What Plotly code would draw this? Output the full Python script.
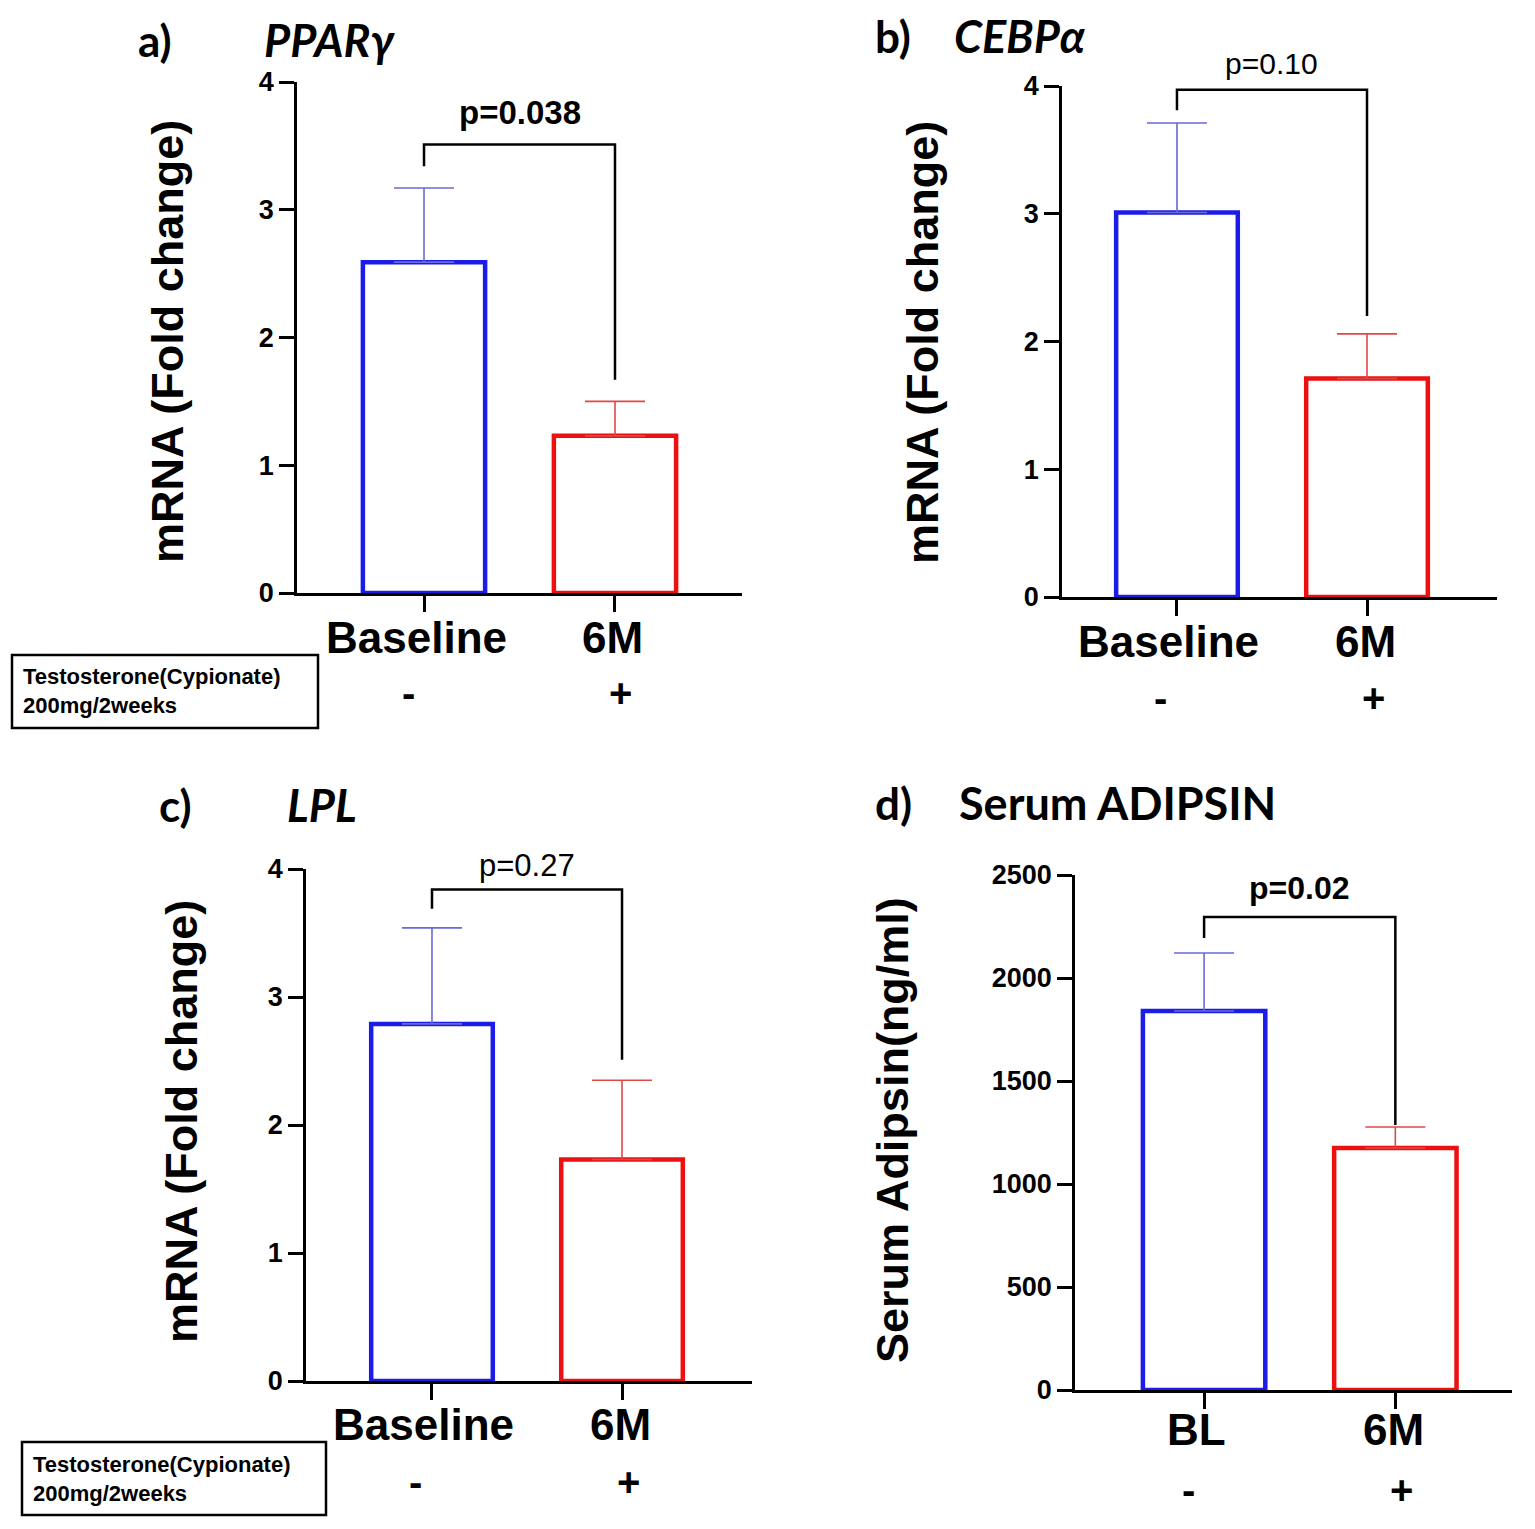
import plotly.graph_objects as go

# --------------------
# Data
# --------------------
groups_a = ["Baseline", "6M"]
groups_d = ["BL", "6M"]
treatment = ["-", "+"]

ppar_mean = [2.59, 1.23]
ppar_err = [0.58, 0.27]
cebpa_mean = [3.01, 1.71]
cebpa_err = [0.70, 0.35]
lpl_mean = [2.79, 1.73]
lpl_err = [0.75, 0.62]
adipsin_mean = [1840, 1175]
adipsin_err = [281, 102]

p_values = ["<b>p=0.038</b>", "p=0.10", "p=0.27", "<b>p=0.02</b>"]
# bracket: top height, left leg bottom, right leg bottom
bracket_a = [3.51, 3.34, 1.67]
bracket_b = [3.97, 3.81, 2.20]
bracket_c = [3.84, 3.69, 2.51]
bracket_d = [2296, 2194, 1286]

W, H = 1535, 1529
OFF = 8  # page body margin
BLUE = "#1c1ce8"
RED = "#ec1010"
BLUE_ERR = "#6a6ad8"
RED_ERR = "#e04848"
FONT = "Liberation Sans, Arial, sans-serif"
TITLE_FONT = "Lato, Noto Sans, sans-serif"


def px(x):
    return (x - OFF) / W


def py(y):
    return 1 - (y - OFF) / H


fig = go.Figure()

# layout helpers per panel (pixel positions)
panels = [
    dict(means=ppar_mean, errs=ppar_err, labels=groups_a, br=bracket_a, p=p_values[0], psize=33, pshift=12,
         xd=(297, 742), yd=(593, 82), xr=[-0.665, 1.665], yr=[0, 4], dt=1, laby=637, treaty=693),
    dict(means=cebpa_mean, errs=cebpa_err, labels=groups_a, br=bracket_b, p=p_values[1], psize=30, pshift=8,
         xd=(1062, 1497), yd=(597, 86), xr=[-0.605, 1.684], yr=[0, 4], dt=1, laby=641, treaty=698),
    dict(means=lpl_mean, errs=lpl_err, labels=groups_a, br=bracket_c, p=p_values[2], psize=31, pshift=4,
         xd=(306, 752), yd=(1381, 869), xr=[-0.663, 1.684], yr=[0, 4], dt=1, laby=1424, treaty=1482),
    dict(means=adipsin_mean, errs=adipsin_err, labels=groups_d, br=bracket_d, p=p_values[3], psize=32, pshift=9,
         xd=(1075, 1512), yd=(1390, 875), xr=[-0.675, 1.61], yr=[0, 2500], dt=500, laby=1429, treaty=1490),
]

axis_common = dict(showline=True, linecolor="black", linewidth=2.5, ticks="outside",
                   tickcolor="black", tickwidth=2.5, showgrid=False, zeroline=False)

for i, pn in enumerate(panels, start=1):
    xa = "x" if i == 1 else f"x{i}"
    ya = "y" if i == 1 else f"y{i}"
    xpos = [0, 1]
    for j, c, ec in [(0, BLUE, BLUE_ERR), (1, RED, RED_ERR)]:
        fig.add_trace(go.Bar(
            x=[xpos[j]], y=[pn["means"][j]],
            width=0.64,
            marker=dict(color="white", line=dict(color=c, width=4.5)),
            error_y=dict(type="data", symmetric=False, array=[pn["errs"][j]],
                         arrayminus=[0], color=ec, thickness=1.6, width=30),
            xaxis=xa, yaxis=ya, showlegend=False,
        ))
    top, lleg, rleg = pn["br"]
    fig.add_trace(go.Scatter(
        x=[0, 0, 1, 1], y=[lleg, top, top, rleg], mode="lines",
        line=dict(color="black", width=2.5), xaxis=xa, yaxis=ya, showlegend=False,
        hoverinfo="skip",
    ))
    fig.add_annotation(x=0.5, y=top, xref=xa, yref=ya, text=pn["p"], showarrow=False,
                       yanchor="bottom", yshift=pn["pshift"],
                       font=dict(family=FONT, size=pn["psize"], color="black"))
    # group names and treatment row (- / +)
    for j in range(2):
        fig.add_annotation(x=xpos[j], y=py(pn["laby"]), xref=xa, yref="paper",
                           xshift=(-8 if j == 0 else -2), yanchor="middle",
                           text=f"<b>{pn['labels'][j]}</b>", showarrow=False,
                           font=dict(family=FONT, size=44, color="black"))
        fig.add_annotation(x=xpos[j], y=py(pn["treaty"]), xref=xa, yref="paper",
                           xshift=(-16 if j == 0 else 6), yanchor="middle",
                           text=f"<b>{treatment[j]}</b>", showarrow=False,
                           font=dict(family=FONT, size=40, color="black"))

    fig.update_layout(**{
        ("xaxis" if i == 1 else f"xaxis{i}"): dict(
            domain=[px(pn["xd"][0]), px(pn["xd"][1])], range=pn["xr"], anchor=ya,
            tickvals=xpos, showticklabels=False, ticklen=16, **axis_common),
        ("yaxis" if i == 1 else f"yaxis{i}"): dict(
            domain=[py(pn["yd"][0]), py(pn["yd"][1])], range=pn["yr"], anchor=xa,
            dtick=pn["dt"], ticklen=15,
            tickfont=dict(family=FONT, size=27, color="black", weight="bold"), **axis_common),
    })

# panel titles
titles = [
    ("a)", 155, 40, "<i>PPARγ</i>", 262),
    ("b)", 893, 36, "<i>CEBPα</i>", 952),
    ("c)", 175, 805, "<i>LPL</i>", 285),
    ("d)", 893, 803, "Serum ADIPSIN", 957),
]
for lab, lx, ly, name, nx in titles:
    fig.add_annotation(x=px(lx), y=py(ly), xref="paper", yref="paper", text=f"<b>{lab}</b>",
                       showarrow=False, xanchor="center", yanchor="middle",
                       font=dict(family=TITLE_FONT, size=44, color="black"))
    fig.add_annotation(x=px(nx), y=py(ly), xref="paper", yref="paper", text=f"<b>{name}</b>",
                       showarrow=False, xanchor="left", yanchor="middle",
                       font=dict(family=TITLE_FONT, size=45, color="black"))

# y axis titles
ytitles = [
    ("mRNA (Fold change)", 168, 342),
    ("mRNA (Fold change)", 922, 343),
    ("mRNA (Fold change)", 181, 1122),
    ("Serum Adipsin(ng/ml)", 892, 1130),
]
for txt, tx, ty in ytitles:
    fig.add_annotation(x=px(tx), y=py(ty), xref="paper", yref="paper", text=f"<b>{txt}</b>",
                       textangle=-90, showarrow=False, xanchor="center", yanchor="middle",
                       font=dict(family=FONT, size=45, color="black"))

# treatment boxes
for bx0, by0, bx1, by1 in [(12, 655, 318, 728), (22, 1442, 326, 1515)]:
    fig.add_shape(type="rect", xref="paper", yref="paper", x0=px(bx0), x1=px(bx1),
                  y0=py(by1), y1=py(by0), line=dict(color="black", width=2.5))
    fig.add_annotation(x=px(bx0 + 9), y=py((by0 + by1) / 2), xref="paper", yref="paper",
                       text="<b>Testosterone(Cypionate)<br>200mg/2weeks</b>", align="left",
                       xanchor="left", yanchor="middle", showarrow=False,
                       font=dict(family=FONT, size=22, color="black"))

fig.update_layout(
    width=W, height=H, margin=dict(l=0, r=0, t=0, b=0, autoexpand=False),
    paper_bgcolor="white", plot_bgcolor="white", barmode="overlay",
)

fig.write_html("out.html")
